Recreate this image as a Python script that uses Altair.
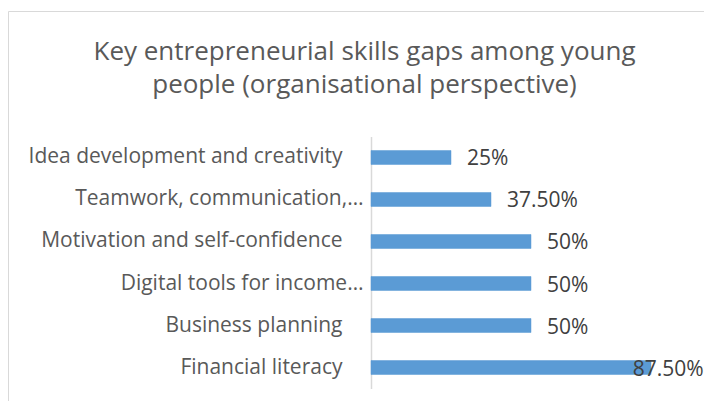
import altair as alt
import pandas as pd

categories = [
    "Idea development and creativity",
    "Teamwork, communication,…",
    "Motivation and self-confidence",
    "Digital tools for income…",
    "Business planning",
    "Financial literacy",
]
values = [0.25, 0.375, 0.50, 0.50, 0.50, 0.875]
value_labels = ["25%", "37.50%", "50%", "50%", "50%", "87.50%"]
title_lines = ["Key entrepreneurial skills gaps among young", "people (organisational perspective)"]

df = pd.DataFrame({"skill": categories, "value": values, "label": value_labels})

FONT = "Open Sans"

y_enc = alt.Y(
    "skill:N",
    sort=categories,
    title=None,
    scale=alt.Scale(paddingInner=0.667, paddingOuter=0.333),
    axis=alt.Axis(
        ticks=False,
        domainColor="#d9d9d9",
        domainWidth=1.5,
        labelFont=FONT,
        labelFontSize=21,
        labelColor="#595959",
        labelPadding={"condition": {"test": "slice(datum.label, -1) == '…'", "value": 8}, "value": 29},
        labelLimit=400,
    ),
)

x_scale = alt.Scale(domain=[0, 1])

base = alt.Chart(df)

bars = base.mark_bar(color="#5b9bd5", stroke="#5b9bd5", strokeWidth=0.5).encode(
    x=alt.X("value:Q", scale=x_scale, axis=None),
    y=y_enc,
)

texts = base.transform_calculate(
    lx="min(datum.value, 0.768)"
).mark_text(
    align="left", baseline="middle", dx=16, dy=2, font=FONT, fontSize=21, color="#404040"
).encode(
    x=alt.X("lx:Q", scale=x_scale, axis=None),
    y=alt.Y("skill:N", sort=categories),
    text="label:N",
)

border = alt.Chart(alt.Data(values=[{"a": 1}])).mark_rect(
    fillOpacity=0, stroke="#d9d9d9", strokeWidth=1
).encode(
    x=alt.value(-362.5),
    x2=alt.value(400),
    y=alt.value(-125),
    y2=alt.value(300),
)

chart = alt.layer(border, bars, texts).properties(
    width=320,
    height=252,
    autosize=alt.AutoSizeParams(type="none"),
    padding={"left": 363, "top": 128.5, "right": 13, "bottom": 12.5},
    title=alt.TitleParams(
        text=title_lines,
        font=FONT,
        fontSize=26,
        fontWeight="normal",
        color="#595959",
        lineHeight=33,
        anchor="middle",
        frame="group",
        dx=-166.5,
        dy=91,
    ),
).configure_view(stroke=None)

chart.save("out.html", embed_options={"renderer": "svg", "actions": False})
